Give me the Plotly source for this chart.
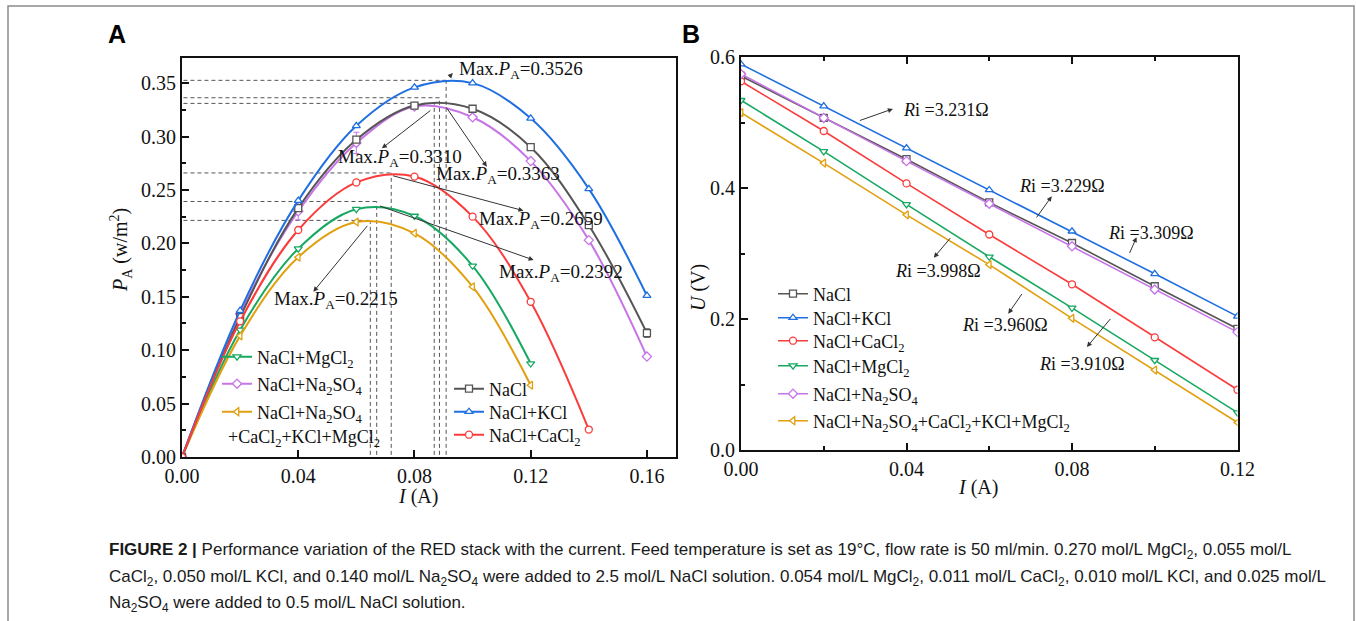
import plotly.graph_objects as go

# ---------------- data ----------------
# Panel A: power density vs current
I_A = [0.00, 0.02, 0.04, 0.06, 0.08, 0.10, 0.12, 0.14, 0.16]
P_NaCl = [0.0, 0.131, 0.233, 0.297, 0.329, 0.326, 0.290, 0.217, 0.116]
P_KCl = [0.0, 0.137, 0.240, 0.310, 0.346, 0.350, 0.317, 0.251, 0.151]
P_CaCl2 = [0.0, 0.127, 0.2125, 0.257, 0.2625, 0.225, 0.1453, 0.0257]
P_MgCl2 = [0.0, 0.119, 0.195, 0.232, 0.2256, 0.179, 0.0875]
P_Na2SO4 = [0.0, 0.134, 0.230, 0.294, 0.328, 0.318, 0.277, 0.203, 0.094]
P_Mix = [0.0, 0.1134, 0.187, 0.220, 0.2094, 0.1594, 0.0672]
err_NaCl = [0, 0, 0, 0, 0, 0, 0, 0, 0.004]
err_Na2SO4 = [0, 0, 0.008, 0.010, 0, 0, 0, 0, 0]
ticks_IA = [0.00, 0.04, 0.08, 0.12, 0.16]

# maxima of each curve (current, power) in order:
# NaCl+KCl, NaCl, NaCl+Na2SO4, NaCl+CaCl2, NaCl+MgCl2, mixture
peak_I = [0.0909, 0.0886, 0.0868, 0.0720, 0.0670, 0.0648]
peak_P = [0.3526, 0.3363, 0.3310, 0.2659, 0.2392, 0.2215]

# Panel B: voltage vs current
I_B = [0.00, 0.02, 0.04, 0.06, 0.08, 0.10, 0.12]
U_NaCl = [0.571, 0.507, 0.444, 0.378, 0.316, 0.250, 0.185]
U_KCl = [0.589, 0.525, 0.461, 0.397, 0.334, 0.269, 0.204]
U_CaCl2 = [0.563, 0.487, 0.407, 0.329, 0.253, 0.172, 0.092]
U_MgCl2 = [0.534, 0.456, 0.375, 0.295, 0.217, 0.137, 0.057]
U_Na2SO4 = [0.574, 0.507, 0.441, 0.376, 0.311, 0.245, 0.180]
U_Mix = [0.515, 0.438, 0.359, 0.283, 0.201, 0.122, 0.042]
Ri_labels = ["3.231", "3.229", "3.309", "3.998", "3.960", "3.910"]

# ---------------- styling ----------------
C_NACL = "#555555"
C_KCL = "#1f6fe0"
C_CACL2 = "#fa3c3c"
C_MGCL2 = "#17a862"
C_NA2SO4 = "#c774e8"
C_MIX = "#e0a00f"
SERIF = "Liberation Serif"
SANS = "Liberation Sans"
W, H = 1356, 621


def px(xp):
    return xp / W


def py(yp):
    return 1 - yp / H


fig = go.Figure()
legends = {}
LEG = dict(font=dict(family=SERIF, size=18, color="#111111"),
           bgcolor="rgba(0,0,0,0)", xanchor="left", yanchor="middle",
           borderwidth=0, itemwidth=30)


def new_legend(x_text, y_row):
    key = "legend" if not legends else f"legend{len(legends) + 1}"
    legends[key] = dict(LEG, x=px(x_text - 40), y=py(y_row))
    return key


def add_A(y, name, color, symbol, x_text, y_row, err=None):
    n = len(y)
    fig.add_trace(go.Scatter(
        x=I_A[:n], y=y, name=name, mode="lines+markers",
        line=dict(color=color, width=2, shape="spline", smoothing=1.0),
        marker=dict(symbol=symbol, size=7, color="white",
                    line=dict(color=color, width=1.3)),
        error_y=(dict(type="data", array=err, color=color, thickness=1,
                      width=3, visible=True) if err else None),
        xaxis="x", yaxis="y", legend=new_legend(x_text, y_row)))


add_A(P_MgCl2, "NaCl+MgCl<sub>2</sub>", C_MGCL2, "triangle-down", 257, 357)
add_A(P_Na2SO4, "NaCl+Na<sub>2</sub>SO<sub>4</sub>", C_NA2SO4, "diamond", 257, 384,
      err_Na2SO4)
add_A(P_Mix, "NaCl+Na<sub>2</sub>SO<sub>4</sub>", C_MIX, "triangle-left", 257, 412)
add_A(P_NaCl, "NaCl", C_NACL, "square", 489, 389, err_NaCl)
add_A(P_KCl, "NaCl+KCl", C_KCL, "triangle-up", 489, 412)
add_A(P_CaCl2, "NaCl+CaCl<sub>2</sub>", C_CACL2, "circle", 489, 435)


def add_B(y, name, color, symbol, y_row):
    fig.add_trace(go.Scatter(
        x=I_B, y=y, name=name, mode="lines+markers",
        line=dict(color=color, width=1.6),
        marker=dict(symbol=symbol, size=7, color="white",
                    line=dict(color=color, width=1.3)),
        xaxis="x2", yaxis="y2", legend=new_legend(813, y_row)))


add_B(U_NaCl, "NaCl", C_NACL, "square", 294)
add_B(U_KCl, "NaCl+KCl", C_KCL, "triangle-up", 318)
add_B(U_CaCl2, "NaCl+CaCl<sub>2</sub>", C_CACL2, "circle", 341)
add_B(U_MgCl2, "NaCl+MgCl<sub>2</sub>", C_MGCL2, "triangle-down", 366)
add_B(U_Na2SO4, "NaCl+Na<sub>2</sub>SO<sub>4</sub>", C_NA2SO4, "diamond", 394)
add_B(U_Mix, "NaCl+Na<sub>2</sub>SO<sub>4</sub>+CaCl<sub>2</sub>+KCl+MgCl<sub>2</sub>",
      C_MIX, "triangle-left", 421)

shapes = []
# dashed guide lines to each maximum
for xi, yi in zip(peak_I, peak_P):
    dash = dict(color="#555555", width=1, dash="4px,3px")
    shapes.append(dict(type="line", xref="x", yref="y", x0=0.0005, x1=xi,
                       y0=yi, y1=yi, line=dash, layer="below"))
    shapes.append(dict(type="line", xref="x", yref="y", x0=xi, x1=xi,
                       y0=0.002, y1=yi, line=dash, layer="below"))

# figure frame
shapes.append(dict(type="rect", xref="paper", yref="paper",
                   x0=px(8), x1=px(1354), y0=py(640), y1=py(6),
                   fillcolor="rgba(0,0,0,0)", layer="below",
                   line=dict(color="#8c8c8c", width=1.5)))

annotations = []
ARROW = dict(showarrow=True, arrowhead=2, arrowsize=1, arrowwidth=1,
             arrowcolor="#333333", standoff=0, startstandoff=0, text=" ")

# Panel A labels for the maxima: (text x, text y, tail x, tail y, head x, head y)
max_pos = [
    (0.0947, 0.3625, 0.0909, 0.3526, 0.0932, 0.3594),
    (0.0866, 0.2640, 0.0899, 0.3315, 0.1049, 0.2718),
    (0.0530, 0.2800, 0.0865, 0.3265, 0.0688, 0.2890),
    (0.1015, 0.2218, 0.0716, 0.2640, 0.1175, 0.2306),
    (0.1084, 0.1719, 0.0671, 0.2359, 0.1210, 0.1844),
    (0.0309, 0.1469, 0.0648, 0.2198, 0.0452, 0.1547),
]
for val, (tx, ty, ax_, ay_, hx, hy) in zip(peak_P, max_pos):
    annotations.append(dict(xref="x", yref="y", x=tx, y=ty, xanchor="left",
                            yanchor="middle", showarrow=False,
                            text=f"Max.<i>P</i><sub>A</sub>={val:.4f}",
                            font=dict(family=SERIF, size=19, color="#111111")))
    annotations.append(dict(ARROW, xref="x", yref="y", x=hx, y=hy,
                            axref="x", ayref="y", ax=ax_, ay=ay_))

# Panel B internal resistance labels
ri_pos = [
    (0.0386, 0.5188, 0.0280, 0.5014, 0.0367, 0.5208),
    (0.0668, 0.4035, 0.0707, 0.3487, 0.0751, 0.3873),
    (0.0882, 0.3315, 0.0932, 0.2904, 0.0956, 0.3248),
    (0.0368, 0.2730, 0.0513, 0.3289, 0.0466, 0.2937),
    (0.0529, 0.1903, 0.0686, 0.2447, 0.0646, 0.2082),
    (0.0716, 0.1320, 0.0900, 0.2056, 0.0836, 0.1573),
]
for lab, (tx, ty, ax_, ay_, hx, hy) in zip(Ri_labels, ri_pos):
    annotations.append(dict(xref="x2", yref="y2", x=tx, y=ty, xanchor="left",
                            yanchor="middle", showarrow=False,
                            text=f"<i>R</i>i ={lab}Ω",
                            font=dict(family=SERIF, size=18, color="#111111")))
    annotations.append(dict(ARROW, xref="x2", yref="y2", x=hx, y=hy,
                            axref="x2", ayref="y2", ax=ax_, ay=ay_))


def paper_text(x, y, text, font, xanchor="center", angle=0):
    annotations.append(dict(xref="paper", yref="paper", x=px(x), y=py(y),
                            xanchor=xanchor, yanchor="middle", showarrow=False,
                            textangle=angle, text=text, font=font))


# continuation of the mixture legend entry
paper_text(226, 438, "+CaCl<sub>2</sub>+KCl+MgCl<sub>2</sub>",
           dict(family=SERIF, size=18, color="#111111"), xanchor="left")

# axis titles
TF = dict(family=SERIF, size=20, color="#111111")
paper_text(418, 496, "<i>I</i> (A)", TF)
paper_text(978, 487, "<i>I</i> (A)", TF)
paper_text(121, 250, "<i>P</i><sub>A</sub> (w/m<sup>2</sup>)", TF, angle=-90)
paper_text(698, 288, "<i>U</i> (V)", TF, angle=-90)

# panel letters
for letter, xp in (("A", 117), ("B", 691)):
    paper_text(xp, 34, f"<b>{letter}</b>",
               dict(family=SANS, size=25, color="#000000"))

# caption
CF = dict(family=SANS, size=17, color="#1a1a1a")
caption_lines = [
    "<b>FIGURE 2 |</b> Performance variation of the RED stack with the current. "
    "Feed temperature is set as 19°C, flow rate is 50 ml/min. 0.270 mol/L "
    "MgCl<sub>2</sub>, 0.055 mol/L",
    "CaCl<sub>2</sub>, 0.050 mol/L KCl, and 0.140 mol/L Na<sub>2</sub>SO<sub>4</sub> "
    "were added to 2.5 mol/L NaCl solution. 0.054 mol/L MgCl<sub>2</sub>, 0.011 mol/L "
    "CaCl<sub>2</sub>, 0.010 mol/L KCl, and 0.025 mol/L",
    "Na<sub>2</sub>SO<sub>4</sub> were added to 0.5 mol/L NaCl solution.",
]
for k, line in enumerate(caption_lines):
    paper_text(107, 551 + 26.5 * k, line, CF, xanchor="left")

AX = dict(showline=True, linecolor="#111111", linewidth=2, mirror=True,
          ticks="inside", ticklen=7, tickwidth=1.5, tickcolor="#111111",
          showgrid=False, zeroline=False, ticklabeloverflow="allow",
          tickfont=dict(family=SERIF, size=20, color="#111111"))

fig.update_layout(
    width=W, height=H, margin=dict(l=0, r=0, t=0, b=0, autoexpand=False),
    paper_bgcolor="white", plot_bgcolor="white",
    showlegend=True, hovermode=False,
    xaxis=dict(AX, domain=[px(182), px(676)], range=[0, 0.17],
               tickmode="array", tickvals=ticks_IA,
               ticktext=[f"{v:.2f}" for v in ticks_IA], anchor="y", mirror=True),
    yaxis=dict(AX, domain=[py(457), py(58)], range=[0, 0.3735], dtick=0.05,
               tick0=0, tickformat=".2f", anchor="x",
               minor=dict(dtick=0.025, ticks="inside", ticklen=4,
                          tickcolor="#111111")),
    xaxis2=dict(AX, domain=[px(741), px(1237.5)], range=[0, 0.12], dtick=0.04,
                tick0=0, tickformat=".2f", anchor="y2", mirror="ticks",
                minor=dict(dtick=0.02, ticks="inside", ticklen=4,
                           tickcolor="#111111")),
    yaxis2=dict(AX, domain=[py(450), py(57)], range=[0, 0.6], dtick=0.2,
                tick0=0, tickformat=".1f", anchor="x2",
                minor=dict(dtick=0.1, ticks="inside", ticklen=4,
                           tickcolor="#111111")),
    shapes=shapes,
    annotations=annotations,
)
fig.update_layout(**legends)

fig.write_html("out.html", post_script="document.body.style.margin = '0';")
